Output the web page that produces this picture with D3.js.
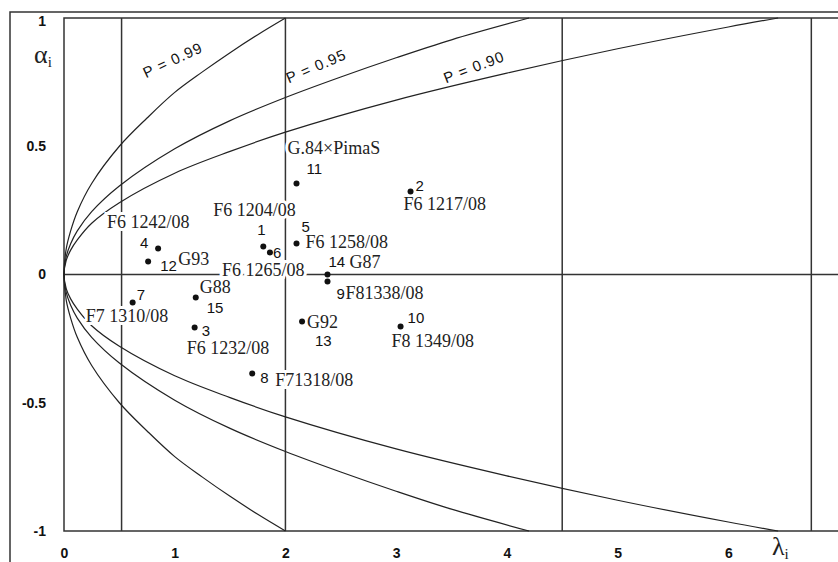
<!DOCTYPE html>
<html>
<head>
<meta charset="utf-8">
<script src="https://cdn.jsdelivr.net/npm/d3@7"></script>
<style>
  body { margin: 0; background: #fff; }
  .tick text { font-family: "Liberation Sans", Arial, sans-serif; font-weight: bold; font-size: 14px; fill: #111; }
  .name { font-family: "Liberation Serif", "Times New Roman", serif; font-size: 18px; fill: #222; }
  .num { font-family: "Liberation Sans", Arial, sans-serif; font-size: 15px; fill: #111; }
  .plab { font-family: "Liberation Sans", Arial, sans-serif; font-size: 15px; fill: #111; }
</style>
</head>
<body>
<div id="chart"></div>
<script>
// data
var ids      = [1, 2, 3, 4, 5, 6, 7, 8, 9, 10, 11, 12, 13, 14, 15]
var names    = ["F6 1204/08", "F6 1217/08", "F6 1232/08", "F6 1242/08", "F6 1258/08",
                "F6 1265/08", "F7 1310/08", "F71318/08", "F81338/08", "F8 1349/08",
                "G.84×PimaS", "G93", "G92", "G87", "G88"]
var lambdas  = [1.80, 3.13, 1.18, 0.85, 2.10, 1.86, 0.62, 1.70, 2.38, 3.04, 2.10, 0.76, 2.15, 2.38, 1.19]
var alphas   = [0.109, 0.324, -0.207, 0.101, 0.121, 0.086, -0.109, -0.386, -0.027, -0.203, 0.355, 0.051, -0.183, 0.0, -0.090]

// probability curves (upper half, lower half is the mirror)
var p99Lambda = [0, 0.02, 0.06, 0.12, 0.25, 0.5, 0.75, 1, 1.25, 1.5, 1.75, 2]
var p99Alpha  = [0, 0.10, 0.17, 0.245, 0.355, 0.5, 0.61, 0.71, 0.79, 0.865, 0.935, 1]
var p95Lambda = [0, 0.02, 0.06, 0.12, 0.25, 0.5, 1, 1.5, 2, 2.5, 3, 3.5, 4.2]
var p95Alpha  = [0, 0.07, 0.12, 0.17, 0.245, 0.345, 0.49, 0.6, 0.69, 0.77, 0.845, 0.915, 1]
var p90Lambda = [0, 0.02, 0.06, 0.12, 0.25, 0.5, 1, 1.5, 2, 3, 4, 5, 6, 6.45]
var p90Alpha  = [0, 0.055, 0.095, 0.135, 0.2, 0.28, 0.395, 0.48, 0.555, 0.68, 0.785, 0.88, 0.965, 1]

var vLines  = [0.52, 2, 4.5, 6.75]
var xTicks  = [0, 1, 2, 3, 4, 5, 6]
var yTicks  = [-1, -0.5, 0, 0.5, 1]

// label placement (pixels from each dot): [num dx, num dy, name dx, name dy]
var labelPos = {
  1: [-6, -12, -50, -31], 2: [5, 0, -7, 19], 3: [7, 8, -8, 26], 4: [-18, -1, -51, -21],
  5: [5, -11, 9, 5], 6: [3, 6, -48, 24], 7: [4, -2, -47, 20], 8: [8, 9, 23, 12],
  9: [9, 18, 18, 18], 10: [7, -4, -9, 20], 11: [10, -9, -9, -29], 12: [12, 10, 30, 4],
  13: [13, 25, 5, 7], 14: [1, -8, 22, -7], 15: [11, 15, 4, -5]
}

var W = 838, H = 562
var svg = d3.select("#chart").append("svg")
  .attr("width", W).attr("height", H)

var x = d3.scaleLinear().domain([0, 7]).range([64, 839])
var y = d3.scaleLinear().domain([-1, 1]).range([531, 18])

var lineCol = "#333"

// outer frame
svg.append("path")
  .attr("d", "M10," + H + "V12H" + W)
  .attr("fill", "none").attr("stroke", lineCol).attr("stroke-width", 1.5)

// plot box (left, top, bottom)
svg.append("path")
  .attr("d", "M" + W + "," + y(1) + "H" + x(0) + "V" + y(-1) + "H" + W)
  .attr("fill", "none").attr("stroke", lineCol).attr("stroke-width", 1.5)

// vertical lines
svg.selectAll(".vline").data(vLines).enter().append("line")
  .attr("x1", d => x(d)).attr("x2", d => x(d))
  .attr("y1", y(1)).attr("y2", y(-1))
  .attr("stroke", lineCol).attr("stroke-width", 1.5)

// zero line
svg.append("line")
  .attr("x1", x(0)).attr("x2", W)
  .attr("y1", y(0)).attr("y2", y(0))
  .attr("stroke", lineCol).attr("stroke-width", 1.5)

// curves
var curve = d3.line()
  .x(d => x(d[0])).y(d => y(d[1]))
  .curve(d3.curveCatmullRom.alpha(0.5))

function curvePts(lam, alp) {
  var up = lam.map((l, i) => [l, alp[i]])
  var down = lam.map((l, i) => [l, -alp[i]]).reverse()
  return down.concat(up.slice(1))
}
[[p99Lambda, p99Alpha], [p95Lambda, p95Alpha], [p90Lambda, p90Alpha]].forEach(function(c) {
  svg.append("path")
    .attr("d", curve(curvePts(c[0], c[1])))
    .attr("fill", "none").attr("stroke", "#222").attr("stroke-width", 1.2)
})

// P labels
var pLabels = [
  {t: "P = 0.99", lx: 0.74, ly: 0.765, rot: -25},
  {t: "P = 0.95", lx: 2.03, ly: 0.745, rot: -23},
  {t: "P = 0.90", lx: 3.45, ly: 0.745, rot: -21}
]
svg.selectAll(".plab").data(pLabels).enter().append("text")
  .attr("class", "plab")
  .attr("transform", d => "translate(" + x(d.lx) + "," + y(d.ly) + ") rotate(" + d.rot + ")")
  .attr("letter-spacing", 1)
  .text(d => d.t)

// axes (labels only)
var xAxis = svg.append("g")
  .attr("transform", "translate(0," + y(-1) + ")")
  .call(d3.axisBottom(x).tickValues(xTicks).tickSize(0).tickPadding(17).tickFormat(d3.format("d")))
xAxis.select(".domain").remove()

var yAxis = svg.append("g")
  .attr("transform", "translate(" + x(0) + ",0)")
  .call(d3.axisLeft(y).tickValues(yTicks).tickSize(0).tickPadding(18).tickFormat(d => String(d)))
yAxis.select(".domain").remove()
yAxis.selectAll(".tick").filter(d => d == 1).select("text").attr("dy", "0.5em")

// axis titles
var aT = svg.append("text").attr("x", 34).attr("y", 63)
  .attr("font-family", "Liberation Serif, serif").attr("font-size", 26).attr("fill", "#222")
aT.append("tspan").text("α")
aT.append("tspan").attr("font-size", 15).attr("dy", 4).text("i")

var lT = svg.append("text").attr("x", 772).attr("y", 555)
  .attr("font-family", "Liberation Serif, serif").attr("font-size", 26).attr("fill", "#222")
lT.append("tspan").text("λ")
lT.append("tspan").attr("font-size", 15).attr("dy", 4).text("i")

// points
var pts = ids.map((id, i) => ({id: id, name: names[i], l: lambdas[i], a: alphas[i]}))

var labs = svg.append("g")
labs.selectAll(".name").data(pts).enter().append("text")
  .attr("class", "name")
  .attr("x", d => x(d.l) + labelPos[d.id][2])
  .attr("y", d => y(d.a) + labelPos[d.id][3])
  .attr("stroke", "#fff").attr("stroke-width", 6).attr("paint-order", "stroke")
  .text(d => d.name)

labs.selectAll(".num").data(pts).enter().append("text")
  .attr("class", "num")
  .attr("x", d => x(d.l) + labelPos[d.id][0])
  .attr("y", d => y(d.a) + labelPos[d.id][1])
  .text(d => d.id)

svg.selectAll(".dot").data(pts).enter().append("circle")
  .attr("cx", d => x(d.l)).attr("cy", d => y(d.a))
  .attr("r", 3).attr("fill", "#111")
</script>
</body>
</html>
